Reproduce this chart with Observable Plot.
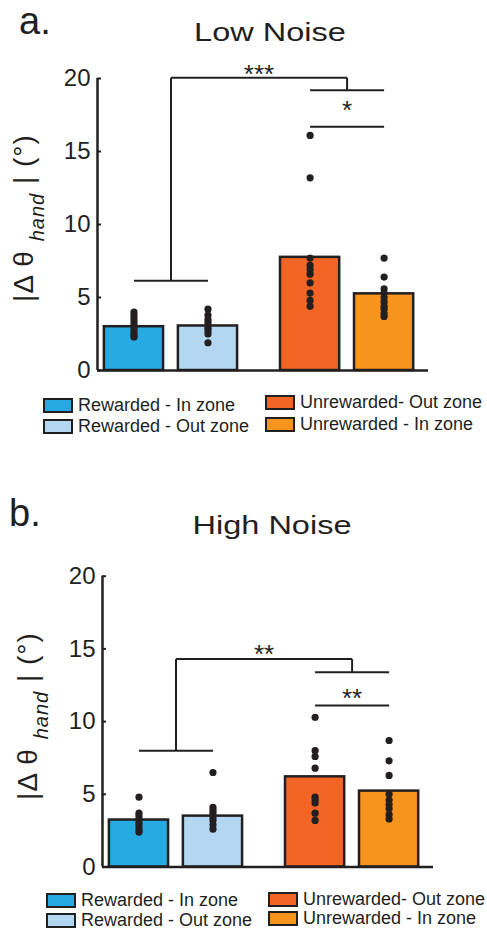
<!DOCTYPE html>
<html>
<head>
<meta charset="utf-8">
<script src="https://cdn.jsdelivr.net/npm/d3@7"></script>
<script src="https://cdn.jsdelivr.net/npm/@observablehq/plot@0.6"></script>
<style>
  body { margin: 0; background: #fff; font-family: "Liberation Sans", Arial, sans-serif; color: #231f20; }
  #page { position: relative; width: 487px; height: 931px; overflow: hidden; }
  .abs { position: absolute; white-space: nowrap; line-height: 1; }
  .plabel { font-size: 38px; }
  .title { font-size: 26px; transform: translateX(-50%) scaleX(1.25); }
  .leg { position: absolute; display: flex; align-items: center; height: 14px; font-size: 18px; white-space: nowrap; }
  .sw { box-sizing: border-box; width: 30px; height: 15px; border: 2.5px solid #231f20; margin-right: 5px; }
  svg { position: absolute; left: 0; }
</style>
</head>
<body>
<div id="page"></div>
<script>
// ---------------- data ----------------
const conditions = ["Rewarded - In zone", "Rewarded - Out zone", "Unrewarded- Out zone", "Unrewarded - In zone"];
const panelTitles = ["Low Noise", "High Noise"];
const panelLetters = ["a.", "b."];
const yTicks = [0, 5, 10, 15, 20];

const lowNoiseMeans = [3.0, 3.05, 7.75, 5.25];
const lowNoiseSubjects = [
  [4.0, 3.8, 3.6, 3.4, 3.2, 3.0, 2.8, 2.6, 2.4, 2.3],
  [4.2, 3.8, 3.5, 3.3, 3.1, 2.9, 2.7, 2.5, 1.9],
  [16.1, 13.2, 7.7, 7.2, 6.9, 6.6, 6.0, 5.3, 4.8, 4.4],
  [7.7, 6.4, 5.6, 5.3, 5.0, 4.7, 4.4, 4.2, 3.9, 3.7]
];
// significance brackets: [outer, left group, right group, inner pair]
const lowNoiseBrackets = [20.05, 6.15, 19.2, 16.7];
const lowNoiseStars = ["***", "*"];
const lowNoiseStarY = [20.27, 17.77];

const highNoiseMeans = [3.23, 3.5, 6.2, 5.22];
const highNoiseSubjects = [
  [4.8, 3.7, 3.5, 3.3, 3.1, 2.9, 2.7, 2.5, 2.4],
  [6.5, 4.1, 3.9, 3.7, 3.4, 3.2, 2.9, 2.6],
  [10.3, 8.0, 7.6, 6.8, 4.8, 4.6, 4.4, 3.7, 3.2],
  [8.7, 7.3, 6.3, 5.0, 4.6, 4.3, 4.0, 3.6, 3.3]
];
const highNoiseBrackets = [14.3, 8.0, 13.4, 11.1];
const highNoiseStars = ["**", "**"];
const highNoiseStarY = [14.6, 11.58];

// ---------------- style / layout ----------------
const ink = "#231f20";
const palette = ["#27aae1", "#b4d7f1", "#f26524", "#f7941e"];
const slot = i => i + (i >= 2 ? 0.38 : 0);   // gap between the two groups
const halfBar = 0.4;
const xDomain = [-0.493, 3.98];

const page = document.getElementById("page");

function addDiv(cls, text, style) {
  const d = document.createElement("div");
  d.className = cls;
  d.textContent = text;
  Object.assign(d.style, style);
  page.appendChild(d);
  return d;
}

function panel(means, subjects, brackets, stars, starY, geo) {
  const bars = conditions.map((c, i) => ({c, x: slot(i), mean: means[i], color: palette[i]}));
  const dots = subjects.flatMap((vals, i) => vals.map(v => ({x: slot(i), v})));
  const [yOuter, yLeft, yRight, yInner] = brackets;
  const L = (slot(0) + slot(1)) / 2, R = (slot(2) + slot(3)) / 2;
  const segs = [
    {x1: slot(0), x2: slot(1), y1: yLeft, y2: yLeft},
    {x1: L, x2: L, y1: yLeft, y2: yOuter},
    {x1: L, x2: R, y1: yOuter, y2: yOuter},
    {x1: R, x2: R, y1: yOuter, y2: yRight},
    {x1: slot(2), x2: slot(3), y1: yRight, y2: yRight},
    {x1: slot(2), x2: slot(3), y1: yInner, y2: yInner}
  ];
  const labels = [
    {x: (L + R) / 2, y: starY[0], t: stars[0]},
    {x: R, y: starY[1], t: stars[1]}
  ];
  const chart = Plot.plot({
    width: 487,
    height: geo.height,
    marginLeft: geo.ml, marginRight: geo.mr, marginTop: geo.mt, marginBottom: geo.mb,
    x: {domain: xDomain, axis: null},
    y: {domain: [0, 20], axis: null},
    style: {fontFamily: '"Liberation Sans", Arial, sans-serif', color: ink, background: "transparent", overflow: "visible"},
    marks: [
      Plot.rect(bars, {x1: d => d.x - halfBar, x2: d => d.x + halfBar, y1: 0, y2: "mean", fill: "color", stroke: ink, strokeWidth: 2.5}),
      Plot.ruleY([0], {stroke: ink, strokeWidth: 2.5}),
      Plot.ruleX([xDomain[0]], {y1: 0, y2: 20, stroke: ink, strokeWidth: 2.5}),
      Plot.axisY({ticks: yTicks, tickSize: -4, tickPadding: 11, strokeWidth: 2, fontSize: 24, label: null, stroke: ink, fill: ink}),
      Plot.dot(dots, {x: "x", y: "v", r: 3.6, fill: ink, stroke: null}),
      Plot.link(segs, {x1: "x1", y1: "y1", x2: "x2", y2: "y2", stroke: ink, strokeWidth: 2}),
      Plot.text(labels, {x: "x", y: "y", text: "t", fontSize: 26, fill: ink})
    ]
  });
  chart.style.top = geo.top + "px";
  // y-axis label with italic subscript
  const svg = d3.select(chart);
  const t = svg.append("text")
    .attr("transform", `translate(${geo.labelX},${geo.labelY}) rotate(-90)`)
    .attr("text-anchor", "middle")
    .attr("font-size", 28)
    .attr("letter-spacing", 1)
    .attr("fill", ink)
    .attr("font-family", '"Liberation Sans", Arial, sans-serif');
  t.append("tspan").text("|\u0394 \u03b8 ");
  t.append("tspan").attr("font-style", "italic").attr("font-size", 20).attr("dy", 11).text("hand");
  t.append("tspan").attr("dy", -11).text(" | (\u00b0)");
  page.appendChild(chart);
}

function legend(geo) {
  conditions.forEach((c, i) => {
    const pos = geo.items[i];
    const item = document.createElement("div");
    item.className = "leg";
    item.style.left = pos[0] + "px";
    item.style.top = pos[1] + "px";
    const sw = document.createElement("div");
    sw.className = "sw";
    sw.style.background = palette[i];
    const tx = document.createElement("span");
    tx.textContent = c;
    item.appendChild(sw);
    item.appendChild(tx);
    page.appendChild(item);
  });
}

// panel a
addDiv("abs plabel", panelLetters[0], {left: "19px", top: "2px"});
addDiv("abs title", panelTitles[0], {left: "270px", top: "19px"});
panel(lowNoiseMeans, lowNoiseSubjects, lowNoiseBrackets, lowNoiseStars, lowNoiseStarY,
  {top: 50, height: 335, ml: 97, mr: 59, mt: 28, mb: 15, labelX: 33, labelY: 168});
legend({items: [[43, 398], [43, 419], [265, 395], [265, 417]]});

// panel b
addDiv("abs plabel", panelLetters[1], {left: "9px", top: "494px"});
addDiv("abs title", panelTitles[1], {left: "272px", top: "512px"});
panel(highNoiseMeans, highNoiseSubjects, highNoiseBrackets, highNoiseStars, highNoiseStarY,
  {top: 550, height: 330, ml: 102, mr: 54, mt: 25.7, mb: 13.5, labelX: 37, labelY: 166});
legend({items: [[46, 893], [46, 913], [268, 892], [268, 911]]});
</script>
</body>
</html>
